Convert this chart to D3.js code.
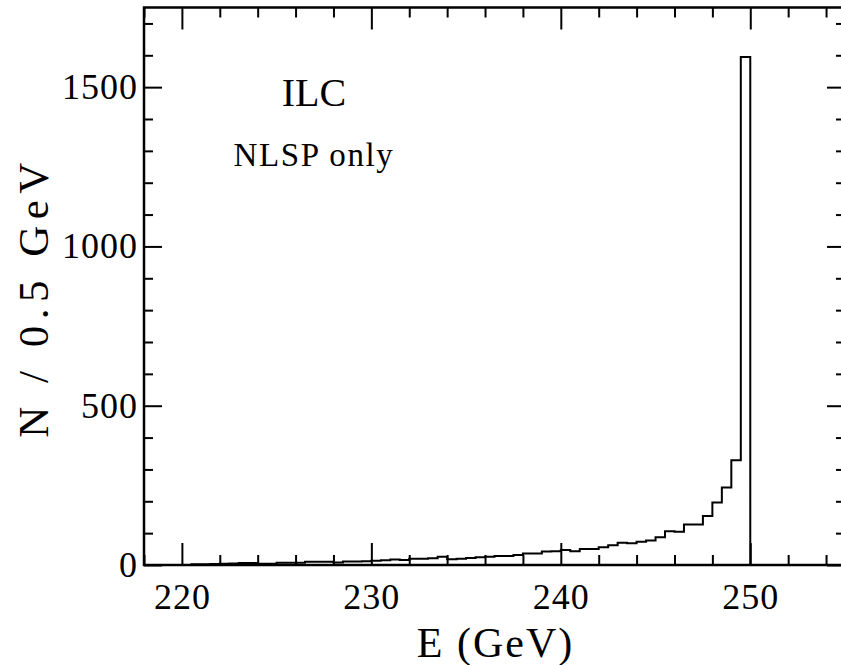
<!DOCTYPE html>
<html>
<head>
<meta charset="utf-8">
<script src="https://cdn.jsdelivr.net/npm/d3@7"></script>
<style>
  html, body { margin: 0; padding: 0; background: #fff; }
  svg { display: block; }
  text { font-family: "Liberation Serif", "Times New Roman", serif; fill: #000; }
</style>
</head>
<body>
<div id="chart"></div>
<script>
// histogram: 0.5 GeV bins from 220 to 250 GeV
const binStart = 220;
const binWidth = 0.5;
const counts = [
  0, 2, 2, 3, 4, 5, 6, 6, 4, 4,
  7, 7, 7, 10, 10, 10, 8, 11, 11, 12,
  13, 15, 17, 16, 20, 20, 21, 26, 18, 20,
  22, 24, 26, 28, 28, 31, 36, 36, 42, 43,
  47, 43, 50, 50, 56, 62, 70, 68, 73, 77,
  87, 106, 104, 127, 127, 154, 196, 243, 329, 1595
];

const xDomain = [218, 255];
const yDomain = [0, 1750];
const xMajor = [220, 230, 240, 250];
const xMinor = d3.range(218, 256, 2).filter(v => v % 10 !== 0);
const yMajor = [0, 500, 1000, 1500];
const yMinor = d3.range(100, 1750, 100).filter(v => v % 500 !== 0);

const labelTitle = "ILC";
const labelSub = "NLSP only";
const xTitle = "E (GeV)";
const yTitle = "N / 0.5 GeV";

const W = 841, H = 665;
const m = { left: 144, top: 7.5, right: -4, bottom: 100 };

const svg = d3.select('#chart').append('svg')
  .attr('width', W)
  .attr('height', H);

svg.append('rect').attr('width', W).attr('height', H).attr('fill', '#fff');

const x = d3.scaleLinear().domain(xDomain).range([m.left, W - m.right]);
const y = d3.scaleLinear().domain(yDomain).range([H - m.bottom, m.top]);

const x0 = x.range()[0], x1 = x.range()[1];
const y0 = y.range()[0], y1 = y.range()[1];

// axes with inward ticks on all four sides
const styleAxis = g => {
  g.select('.domain').remove();
  g.selectAll('line').attr('stroke', '#000').attr('stroke-width', 2);
  g.selectAll('text')
    .style('font-family', '"Liberation Serif", serif')
    .style('font-size', '36px')
    .style('letter-spacing', '1px')
    .attr('fill', '#000');
};

svg.append('g').attr('transform', `translate(0,${y0})`)
  .call(d3.axisBottom(x).tickValues(xMajor).tickSize(-22).tickPadding(18).tickFormat(d3.format('d')))
  .call(styleAxis);
svg.append('g').attr('transform', `translate(0,${y0})`)
  .call(d3.axisBottom(x).tickValues(xMinor).tickSize(-10).tickFormat(''))
  .call(styleAxis);
svg.append('g').attr('transform', `translate(0,${y1})`)
  .call(d3.axisTop(x).tickValues(xMajor).tickSize(-22).tickFormat(''))
  .call(styleAxis);
svg.append('g').attr('transform', `translate(0,${y1})`)
  .call(d3.axisTop(x).tickValues(xMinor).tickSize(-10).tickFormat(''))
  .call(styleAxis);

svg.append('g').attr('transform', `translate(${x0},0)`)
  .call(d3.axisLeft(y).tickValues(yMajor).tickSize(-18).tickPadding(6).tickFormat(d3.format('d')))
  .call(styleAxis);
svg.append('g').attr('transform', `translate(${x0},0)`)
  .call(d3.axisLeft(y).tickValues(yMinor).tickSize(-9).tickFormat(''))
  .call(styleAxis);
svg.append('g').attr('transform', `translate(${x1},0)`)
  .call(d3.axisRight(y).tickValues(yMajor).tickSize(-18).tickFormat(''))
  .call(styleAxis);
svg.append('g').attr('transform', `translate(${x1},0)`)
  .call(d3.axisRight(y).tickValues(yMinor).tickSize(-9).tickFormat(''))
  .call(styleAxis);

// frame
svg.append('rect')
  .attr('x', x0).attr('y', y1)
  .attr('width', x1 - x0).attr('height', y0 - y1)
  .attr('fill', 'none').attr('stroke', '#000').attr('stroke-width', 2.5);

// histogram outline
const pts = [[binStart, 0]];
counts.forEach((c, i) => pts.push([binStart + i * binWidth, c]));
pts.push([binStart + counts.length * binWidth, counts[counts.length - 1]]);
pts.push([binStart + counts.length * binWidth, 0]);

const line = d3.line()
  .x(d => x(d[0]))
  .y(d => y(d[1]))
  .curve(d3.curveStepAfter);

svg.append('path')
  .datum(pts)
  .attr('d', line)
  .attr('fill', 'none')
  .attr('stroke', '#000')
  .attr('stroke-width', 2);

// annotations
svg.append('text')
  .attr('x', 314).attr('y', 106)
  .attr('text-anchor', 'middle')
  .style('font-size', '40px')
  .text(labelTitle);

svg.append('text')
  .attr('x', 314).attr('y', 166)
  .attr('text-anchor', 'middle')
  .style('font-size', '33px')
  .style('letter-spacing', '1.6px')
  .text(labelSub);

// axis titles
svg.append('text')
  .attr('x', (x0 + 841) / 2 + 3).attr('y', 657)
  .attr('text-anchor', 'middle')
  .style('font-size', '42px')
  .style('letter-spacing', '2px')
  .text(xTitle);

svg.append('text')
  .attr('transform', `translate(48,${297}) rotate(-90)`)
  .attr('text-anchor', 'middle')
  .style('font-size', '43px')
  .style('letter-spacing', '6.5px')
  .text(yTitle);
</script>
</body>
</html>
